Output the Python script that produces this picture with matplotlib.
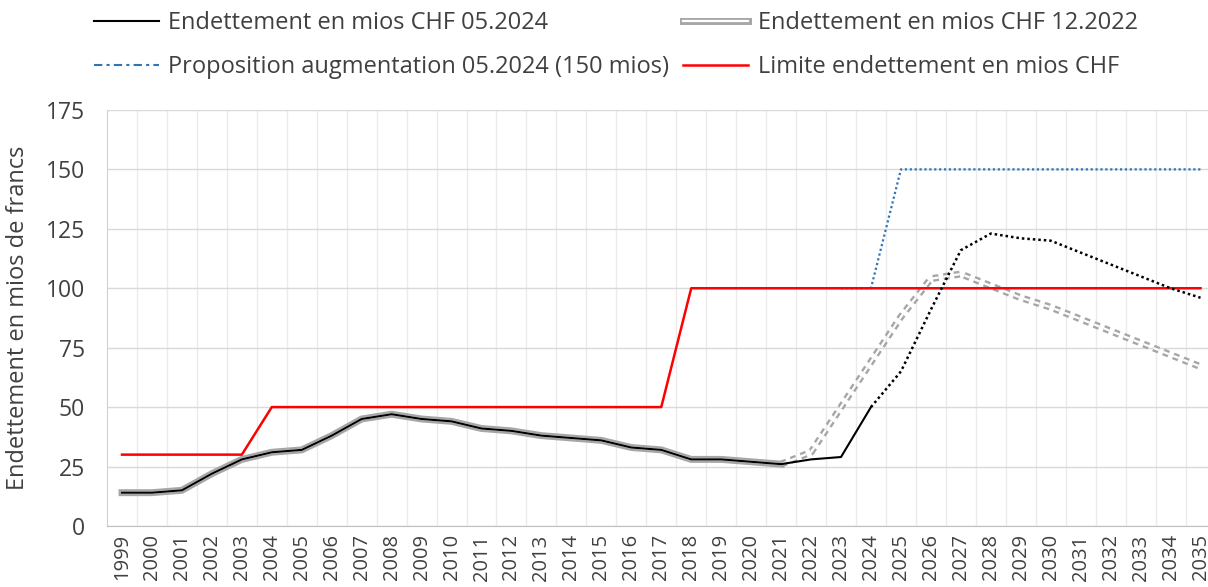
import matplotlib
matplotlib.use('Agg')

import matplotlib.pyplot as plt
import matplotlib.patheffects as pe
import numpy as np
from matplotlib.lines import Line2D

# Données (en mios CHF)
annees = [str(a) for a in range(1999, 2036)]

dette_05_2024 = [14, 14, 15, 22, 28, 31, 32, 38, 45, 47, 45, 44, 41, 40, 38, 37,
                 36, 33, 32, 28, 28, 27, 26, 28, 29, 50, 65, 91, 116, 123, 121,
                 120, 115, 110, 105, 100, 96]
dette_12_2022 = [14, 14, 15, 22, 28, 31, 32, 38, 45, 47, 45, 44, 41, 40, 38, 37,
                 36, 33, 32, 28, 28, 27, 26, 31, 50, 69, 88, 104, 106, 101, 96,
                 92, 87, 82, 77, 72, 67]
limite = [30] * 5 + [50] * 14 + [100] * 18
proposition = [np.nan] * 24 + [100, 100] + [150] * 11

dernier_reel_2024 = "2024"   # fin de la partie en trait plein (05.2024)
dernier_reel_2022 = "2021"   # fin de la partie en trait plein (12.2022)

plt.rcParams['font.family'] = ['Open Sans', 'DejaVu Sans']

x = np.arange(len(annees))
i24 = annees.index(dernier_reel_2024)
i22 = annees.index(dernier_reel_2022)

fig = plt.figure(figsize=(12.08, 5.87), dpi=100)
ax = fig.add_axes([0.0886, 0.104, 0.9114, 0.7087])

gris = "#a6a6a6"
txt = "#404040"
double = [pe.Stroke(linewidth=5, foreground=gris), pe.Normal()]

# Ligne double grise (12.2022)
ax.plot(x[:i22 + 1], dette_12_2022[:i22 + 1], color="white", lw=1.6,
        path_effects=double, zorder=3)
ax.plot(x[i22:], dette_12_2022[i22:], color="white", lw=1.6, dashes=(2.6, 2.2),
        dash_capstyle="butt", path_effects=double, zorder=3)

# Limite et proposition
ax.plot(x, proposition, color="#2e75b6", lw=1.6, linestyle=(0, (1, 1.2)), zorder=2)
ax.plot(x, limite, color="#ff0000", lw=1.8, zorder=4)

# Endettement 05.2024
ax.plot(x[:i24 + 1], dette_05_2024[:i24 + 1], color="black", lw=1.5, zorder=5)
ax.plot(x[i24:], dette_05_2024[i24:], color="black", lw=1.8, linestyle=(0, (1, 1.2)), zorder=5)

ax.set_xlim(-0.5, 36.25)
ax.set_ylim(0, 175)
ax.set_yticks(range(0, 176, 25))
ax.set_xticks(x)
ax.set_xticklabels(annees, rotation=90, fontsize=14.5, color=txt)
ax.set_xticks(x[:-1] + 0.5, minor=True)
ax.tick_params(axis="x", which="both", length=0, pad=6)
ax.tick_params(axis="y", length=0, labelsize=16.5, labelcolor=txt, pad=16)

ax.grid(True, axis="y", color="#d9d9d9", lw=1)
ax.grid(True, axis="x", which="minor", color="#ebebeb", lw=1)
ax.set_axisbelow(True)
for s in ["top", "right"]:
    ax.spines[s].set_visible(False)
ax.spines["left"].set_color("#d0d0d0")
ax.spines["bottom"].set_color("#bfbfbf")

ax.set_ylabel("Endettement en mios de francs", fontsize=17, color=txt)
ax.yaxis.set_label_coords(-0.070, 0.5)

# Légende
h_noir = Line2D([], [], color="black", lw=1.5)
h_gris = Line2D([], [], color="white", lw=1.6, path_effects=double)
h_bleu = Line2D([], [], color="#2e75b6", lw=1.5, dashes=(4, 2, 1.5, 2))
h_rouge = Line2D([], [], color="#ff0000", lw=1.8)

fig.legend([h_noir, h_bleu, h_gris, h_rouge],
           ["Endettement en mios CHF 05.2024",
            "Proposition augmentation 05.2024 (150 mios)",
            "Endettement en mios CHF 12.2022",
            "Limite endettement en mios CHF"],
           ncol=2, loc="upper left", bbox_to_anchor=(0.060, 1.017),
           frameon=False, fontsize=17, labelcolor=txt,
           handlelength=2.75, handletextpad=0.4, columnspacing=0.6,
           labelspacing=0.85)

plt.savefig("out.png", dpi=100)
plt.close(fig)
